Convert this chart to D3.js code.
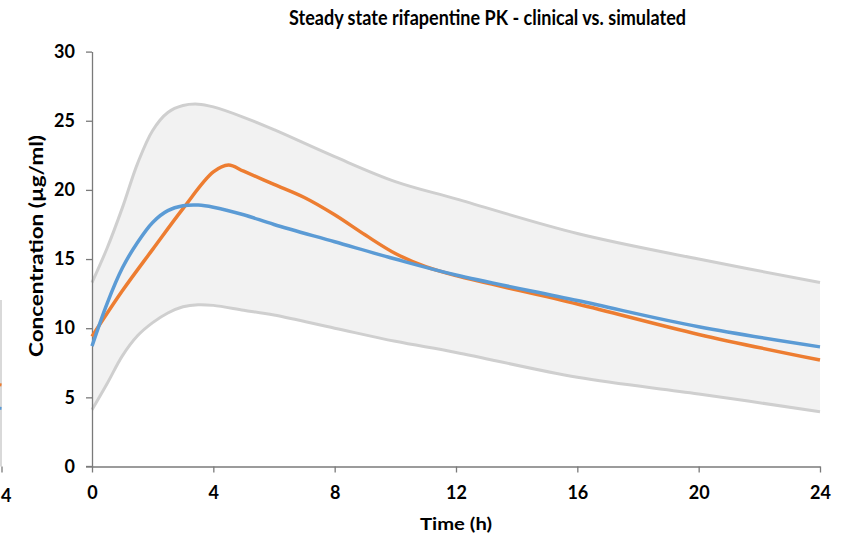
<!DOCTYPE html>
<html>
<head>
<meta charset="utf-8">
<script src="https://cdn.jsdelivr.net/npm/d3@7"></script>
<style>
  html, body { margin: 0; padding: 0; background: #fff; }
  svg { display: block; }
  text { font-family: Lato, "Open Sans", sans-serif; font-weight: bold; fill: #000; }
</style>
</head>
<body>
<svg id="chart" width="849" height="533"></svg>
<script>
// ---- data ----
const title = "Steady state rifapentine PK - clinical vs. simulated";
const xLabel = "Time (h)";
const yLabel = "Concentration (µg/ml)";
const xTicks = [0, 4, 8, 12, 16, 20, 24];
const yTicks = [0, 5, 10, 15, 20, 25, 30];

const bandTime  = [0, 0.5, 1, 1.5, 2, 2.5, 3, 3.5, 4, 5, 6, 8, 10, 12, 16, 20, 24];
const bandUpper = [13.3, 15.8, 18.7, 21.9, 24.3, 25.6, 26.1, 26.2, 26.0, 25.25, 24.35, 22.4, 20.6, 19.35, 16.85, 15.0, 13.3];
const bandLower = [4.1, 6.0, 8.0, 9.45, 10.4, 11.1, 11.55, 11.7, 11.65, 11.3, 10.95, 10.0, 9.05, 8.25, 6.45, 5.25, 3.96];

const clinicalTime = [0, 1, 2, 3, 4, 4.5, 5, 6, 7, 8, 9, 10, 11, 12, 16, 20, 24];
const clinical     = [9.4, 12.7, 15.7, 18.65, 21.3, 21.8, 21.35, 20.4, 19.45, 18.2, 16.75, 15.4, 14.45, 13.8, 11.75, 9.55, 7.7];

const simTime   = [0, 0.5, 1, 1.5, 2, 2.5, 3, 3.5, 4, 5, 6, 8, 10, 12, 16, 20, 24];
const simulated = [8.7, 11.8, 14.35, 16.2, 17.65, 18.5, 18.85, 18.9, 18.75, 18.2, 17.5, 16.25, 15.0, 13.85, 12.0, 10.1, 8.65];

// ---- layout ----
const svg = d3.select("#chart");
const x = d3.scaleLinear().domain([0, 24]).range([92, 820]);
const y = d3.scaleLinear().domain([0, 30]).range([466.5, 51.6]);
const curve = d3.curveCatmullRom.alpha(0.5);
const axisColor = "#7a7a7a";
const font = "Lato, 'Open Sans', sans-serif";

// band fill
const bandData = bandTime.map((t, i) => ({ t, hi: bandUpper[i], lo: bandLower[i] }));
svg.append("path")
  .datum(bandData)
  .attr("fill", "#f2f2f2")
  .attr("d", d3.area().curve(curve).x(d => x(d.t)).y0(d => y(d.lo)).y1(d => y(d.hi)));

// band bounds
svg.append("path").datum(bandData)
  .attr("fill", "none").attr("stroke", "#cfcfcf").attr("stroke-width", 3)
  .attr("d", d3.line().curve(curve).x(d => x(d.t)).y(d => y(d.hi)));
svg.append("path").datum(bandData)
  .attr("fill", "none").attr("stroke", "#cfcfcf").attr("stroke-width", 3)
  .attr("d", d3.line().curve(curve).x(d => x(d.t)).y(d => y(d.lo)));

// axes
const xAxis = d3.axisBottom(x).tickValues(xTicks).tickSize(6).tickSizeOuter(0).tickPadding(14);
const yAxis = d3.axisLeft(y).tickValues(yTicks).tickSize(6).tickSizeOuter(0).tickPadding(11);

const gx = svg.append("g").attr("transform", `translate(0,${y(0)})`).call(xAxis);
const gy = svg.append("g").attr("transform", `translate(${x(0)},0)`).call(yAxis);
[gx, gy].forEach(g => {
  g.select(".domain").attr("stroke", axisColor).attr("stroke-width", 1.3);
  g.selectAll(".tick line").attr("stroke", axisColor).attr("stroke-width", 1.3);
  g.selectAll(".tick text").attr("font-size", 18).attr("font-family", font)
    .attr("font-weight", "bold").attr("fill", "#000");
});
svg.append("line")
  .attr("x1", x(0) - 6).attr("x2", x(0)).attr("y1", y(0)).attr("y2", y(0))
  .attr("stroke", axisColor).attr("stroke-width", 1.3);

// series lines
const sim = simTime.map((t, i) => ({ t, v: simulated[i] }));
const clin = clinicalTime.map((t, i) => ({ t, v: clinical[i] }));
const line = d3.line().curve(curve).x(d => x(d.t)).y(d => y(d.v));

svg.append("path").datum(clin)
  .attr("fill", "none").attr("stroke", "#ED7D31").attr("stroke-width", 3.5)
  .attr("stroke-linejoin", "round").attr("d", line);
svg.append("path").datum(sim)
  .attr("fill", "none").attr("stroke", "#5B9BD5").attr("stroke-width", 3.5)
  .attr("stroke-linejoin", "round").attr("d", line);

// title & axis labels
svg.append("text").attr("x", 487.5).attr("y", 25).attr("text-anchor", "middle")
  .attr("font-size", 20).attr("textLength", 397).attr("lengthAdjust", "spacingAndGlyphs")
  .text(title);
svg.append("text").attr("x", 456).attr("y", 530).attr("text-anchor", "middle")
  .attr("font-size", 17).attr("textLength", 72).attr("lengthAdjust", "spacingAndGlyphs")
  .text(xLabel);
svg.append("text")
  .attr("transform", `translate(43,246) rotate(-90)`)
  .attr("text-anchor", "middle").attr("font-size", 18)
  .attr("textLength", 222).attr("lengthAdjust", "spacingAndGlyphs")
  .text(yLabel);

// fragments of the neighbouring chart visible at the left edge
const frag = svg.append("g");
frag.append("line").attr("x1", 1).attr("x2", 1).attr("y1", 300).attr("y2", y(0))
  .attr("stroke", "#d9d9d9").attr("stroke-width", 2);
frag.append("line").attr("x1", 2).attr("x2", 2).attr("y1", y(0)).attr("y2", y(0) + 6)
  .attr("stroke", axisColor).attr("stroke-width", 1.3);
frag.append("line").attr("x1", -4).attr("x2", 1.5).attr("y1", 384).attr("y2", 385)
  .attr("stroke", "#ED7D31").attr("stroke-width", 3);
frag.append("line").attr("x1", -4).attr("x2", 1.5).attr("y1", 408).attr("y2", 408.5)
  .attr("stroke", "#5B9BD5").attr("stroke-width", 3);
frag.append("text").attr("x", 1).attr("y", 502).attr("text-anchor", "start")
  .attr("font-size", 18).text("4");
</script>
</body>
</html>
